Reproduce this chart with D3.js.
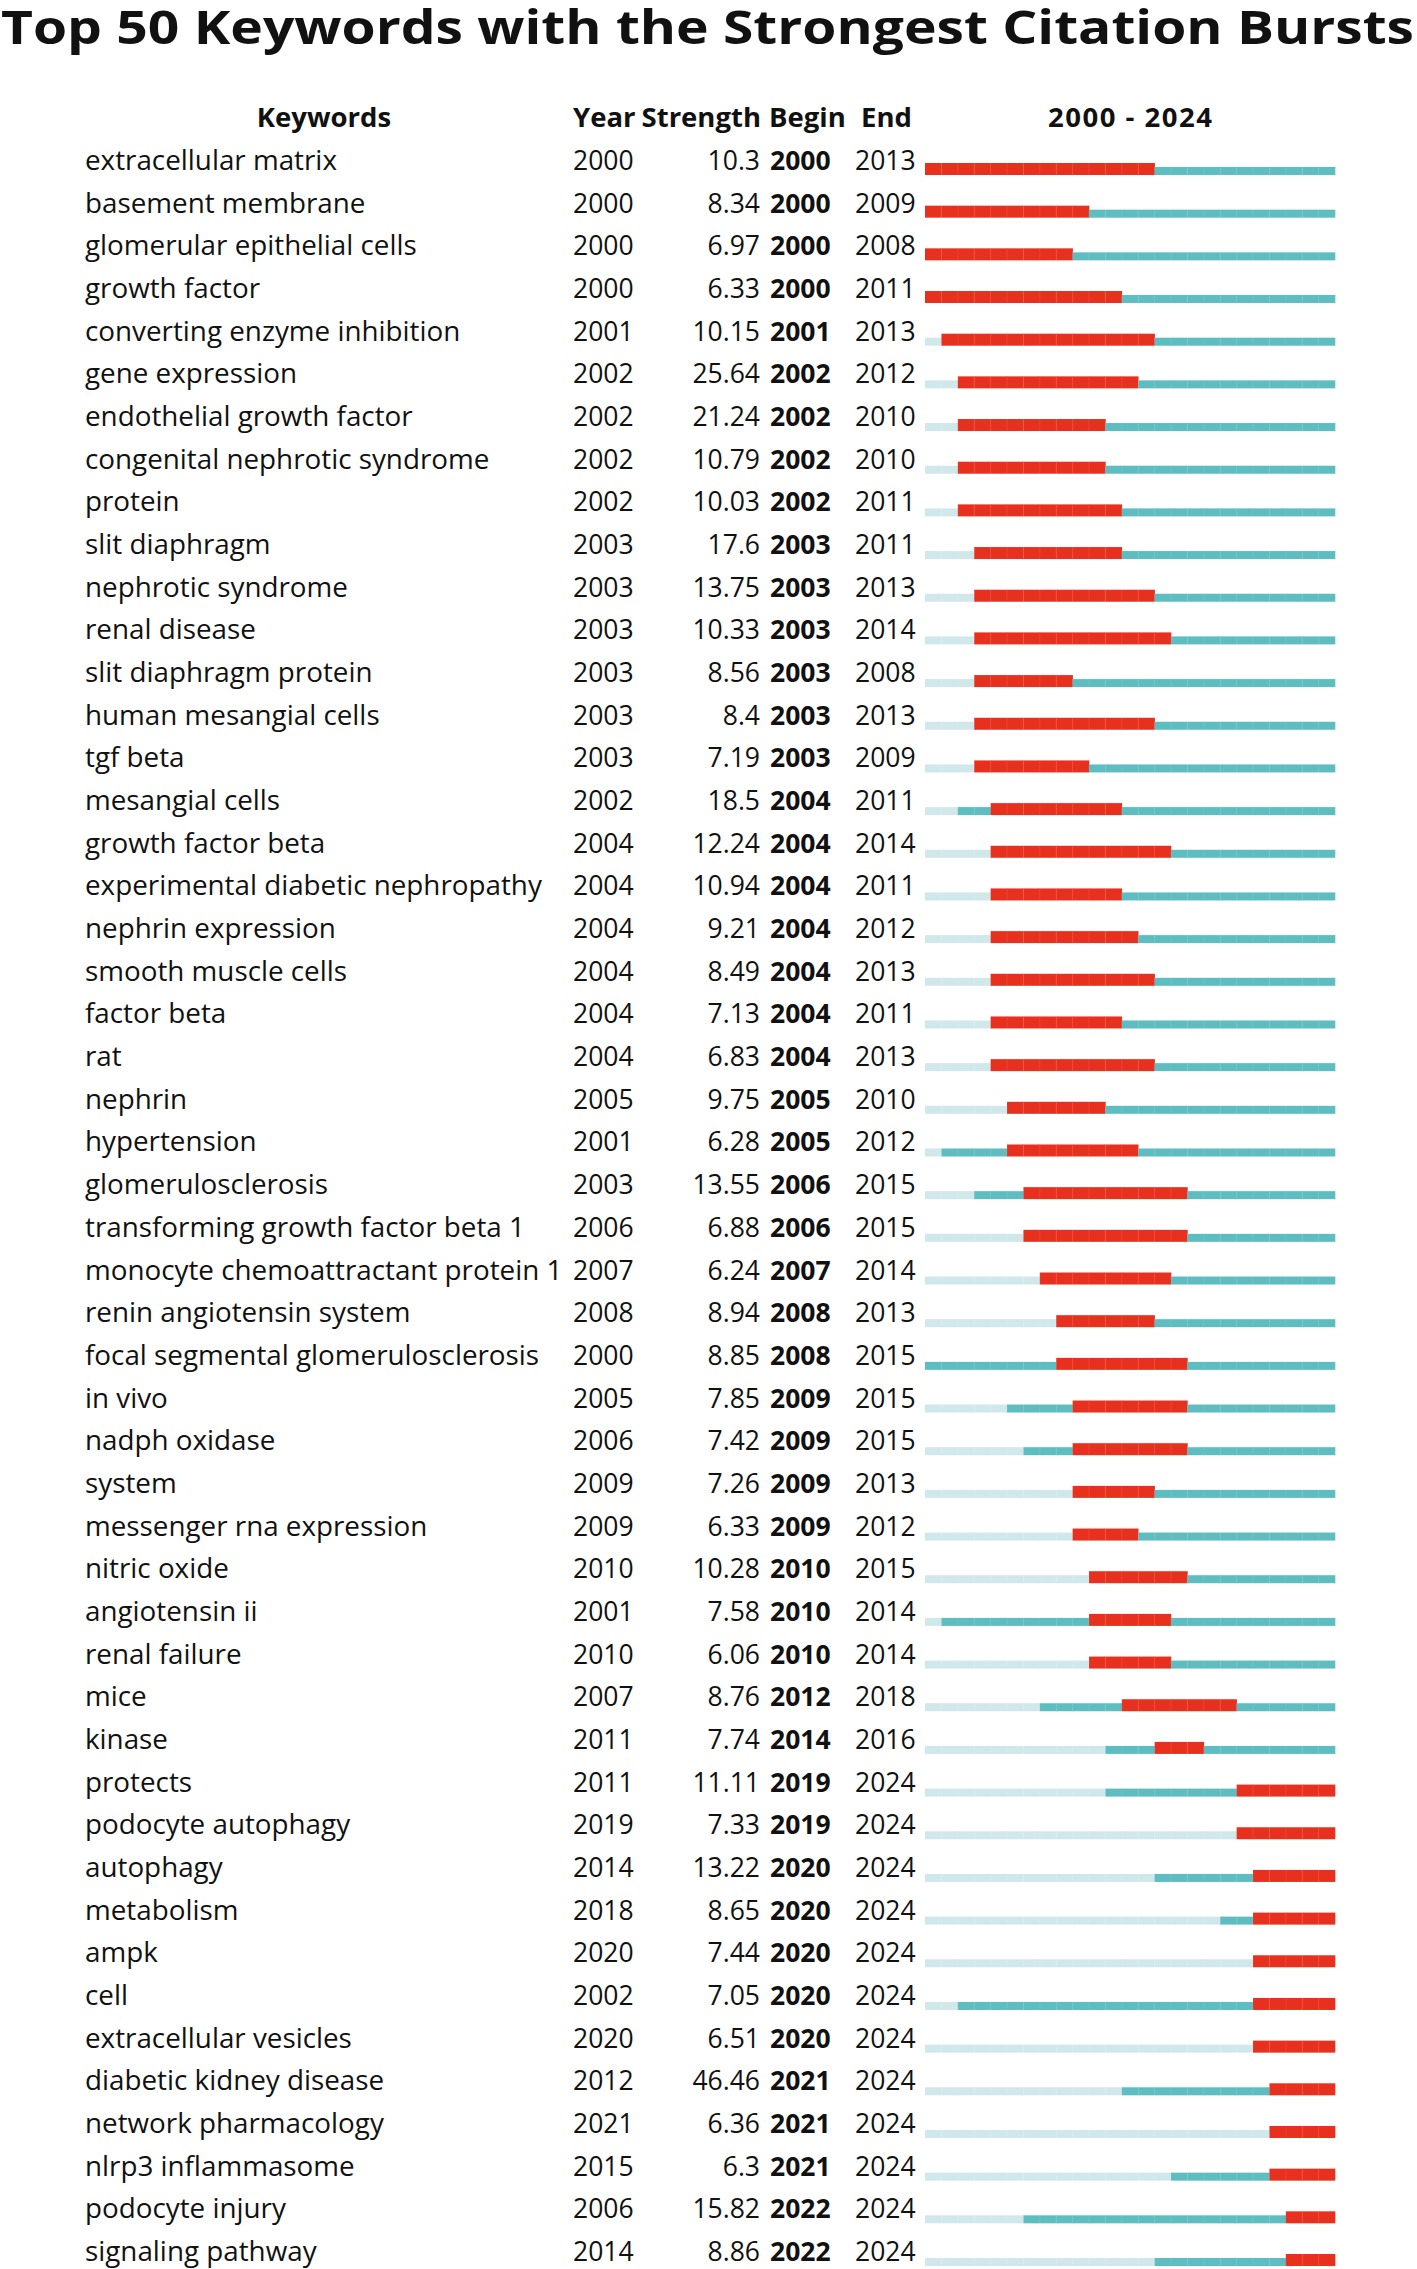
<!DOCTYPE html>
<html>
<head>
<meta charset="utf-8">
<script src="https://cdn.jsdelivr.net/npm/d3@7"></script>
<style>
  body { margin: 0; background: #fff; }
  text { font-family: "Open Sans", "Noto Sans", sans-serif; fill: #111; }
</style>
</head>
<body>
<div class="visualization"></div>
<script>
// keyword table
const keywords = [
  'extracellular matrix', 'basement membrane', 'glomerular epithelial cells', 'growth factor',
  'converting enzyme inhibition', 'gene expression', 'endothelial growth factor',
  'congenital nephrotic syndrome', 'protein', 'slit diaphragm', 'nephrotic syndrome',
  'renal disease', 'slit diaphragm protein', 'human mesangial cells', 'tgf beta',
  'mesangial cells', 'growth factor beta', 'experimental diabetic nephropathy',
  'nephrin expression', 'smooth muscle cells', 'factor beta', 'rat', 'nephrin',
  'hypertension', 'glomerulosclerosis', 'transforming growth factor beta 1',
  'monocyte chemoattractant protein 1', 'renin angiotensin system',
  'focal segmental glomerulosclerosis', 'in vivo', 'nadph oxidase', 'system',
  'messenger rna expression', 'nitric oxide', 'angiotensin ii', 'renal failure', 'mice',
  'kinase', 'protects', 'podocyte autophagy', 'autophagy', 'metabolism', 'ampk', 'cell',
  'extracellular vesicles', 'diabetic kidney disease', 'network pharmacology',
  'nlrp3 inflammasome', 'podocyte injury', 'signaling pathway'
];
const years = [
  2000, 2000, 2000, 2000, 2001, 2002, 2002, 2002, 2002, 2003,
  2003, 2003, 2003, 2003, 2003, 2002, 2004, 2004, 2004, 2004,
  2004, 2004, 2005, 2001, 2003, 2006, 2007, 2008, 2000, 2005,
  2006, 2009, 2009, 2010, 2001, 2010, 2007, 2011, 2011, 2019,
  2014, 2018, 2020, 2002, 2020, 2012, 2021, 2015, 2006, 2014
];
const strengths = [
  '10.3', '8.34', '6.97', '6.33', '10.15', '25.64', '21.24', '10.79', '10.03', '17.6',
  '13.75', '10.33', '8.56', '8.4', '7.19', '18.5', '12.24', '10.94', '9.21', '8.49',
  '7.13', '6.83', '9.75', '6.28', '13.55', '6.88', '6.24', '8.94', '8.85', '7.85',
  '7.42', '7.26', '6.33', '10.28', '7.58', '6.06', '8.76', '7.74', '11.11', '7.33',
  '13.22', '8.65', '7.44', '7.05', '6.51', '46.46', '6.36', '6.3', '15.82', '8.86'
];
const begins = [
  2000, 2000, 2000, 2000, 2001, 2002, 2002, 2002, 2002, 2003,
  2003, 2003, 2003, 2003, 2003, 2004, 2004, 2004, 2004, 2004,
  2004, 2004, 2005, 2005, 2006, 2006, 2007, 2008, 2008, 2009,
  2009, 2009, 2009, 2010, 2010, 2010, 2012, 2014, 2019, 2019,
  2020, 2020, 2020, 2020, 2020, 2021, 2021, 2021, 2022, 2022
];
const ends = [
  2013, 2009, 2008, 2011, 2013, 2012, 2010, 2010, 2011, 2011,
  2013, 2014, 2008, 2013, 2009, 2011, 2014, 2011, 2012, 2013,
  2011, 2013, 2010, 2012, 2015, 2015, 2014, 2013, 2015, 2015,
  2015, 2013, 2012, 2015, 2014, 2014, 2018, 2016, 2024, 2024,
  2024, 2024, 2024, 2024, 2024, 2024, 2024, 2024, 2024, 2024
];
const timeline = d3.range(2000, 2025);
const headers = ['Keywords', 'Year', 'Strength', 'Begin', 'End', '2000 - 2024'];

const width = 1417, height = 2269;
const svg = d3.select('.visualization').append('svg')
    .attr('width', width)
    .attr('height', height);

// title, stretched to the page width like the figure
svg.append('text')
    .attr('x', 1)
    .attr('y', 44)
    .attr('textLength', 1413)
    .attr('lengthAdjust', 'spacingAndGlyphs')
    .style('font-size', '46px')
    .style('font-weight', 'bold')
    .text('Top 50 Keywords with the Strongest Citation Bursts');

const rows = d3.range(keywords.length);
const y = d3.scalePoint()
    .domain(rows)
    .range([170, 2261]);
const x = d3.scaleBand()
    .domain(timeline)
    .range([925, 1335]);

// column headers
const head = svg.append('g').attr('class', 'header')
    .style('font-size', '27.5px')
    .style('font-weight', 'bold');
head.append('text').attr('x', 324).attr('y', 127).attr('text-anchor', 'middle').text(headers[0]);
head.append('text').attr('x', 573).attr('y', 127).text(headers[1]);
head.append('text').attr('x', 761).attr('y', 127).attr('text-anchor', 'end').text(headers[2]);
head.append('text').attr('x', 769).attr('y', 127).text(headers[3]);
head.append('text').attr('x', 861).attr('y', 127).text(headers[4]);
head.append('text').attr('x', 1048).attr('y', 127)
    .attr('textLength', 164).attr('lengthAdjust', 'spacing')
    .text(headers[5]);

const row = svg.append('g').attr('class', 'rows')
    .selectAll('g')
    .data(rows)
    .enter().append('g')
    .attr('transform', i => `translate(0,${y(i)})`)
    .style('font-size', '26.5px');

row.append('text').attr('x', 85).style('font-size', '27.8px').text(i => keywords[i]);
row.append('text').attr('x', 573).text(i => years[i]);
row.append('text').attr('x', 760).attr('text-anchor', 'end').text(i => strengths[i]);
row.append('text').attr('x', 770).style('font-weight', 'bold').text(i => begins[i]);
row.append('text').attr('x', 855).text(i => ends[i]);

// one cell per year: pale before the keyword appears, teal after, red during the burst
const inBurst = d => d.yr >= begins[d.i] && d.yr <= ends[d.i];
const cellColor = d => {
    if (inBurst(d)) return '#e8301e';
    if (d.yr >= years[d.i]) return '#5dbdc0';
    return '#d1e8eb';
};
const cells = row.selectAll('g.cell')
    .data(i => timeline.map(yr => ({i: i, yr: yr})))
    .enter().append('g')
    .attr('class', 'cell');
cells.append('rect')
    .attr('x', d => x(d.yr))
    .attr('width', x.bandwidth() + 0.3)
    .attr('y', d => inBurst(d) ? -7 : -3)
    .attr('height', d => inBurst(d) ? 12 : 8)
    .style('fill', cellColor);
// faint year dividers inside the bars
cells.filter(d => d.yr > 2000).append('line')
    .attr('x1', d => x(d.yr)).attr('x2', d => x(d.yr))
    .attr('y1', d => inBurst(d) ? -7 : -3)
    .attr('y2', 5)
    .style('stroke', '#fff')
    .style('stroke-opacity', 0.12)
    .style('stroke-width', 0.8);
</script>
</body>
</html>
